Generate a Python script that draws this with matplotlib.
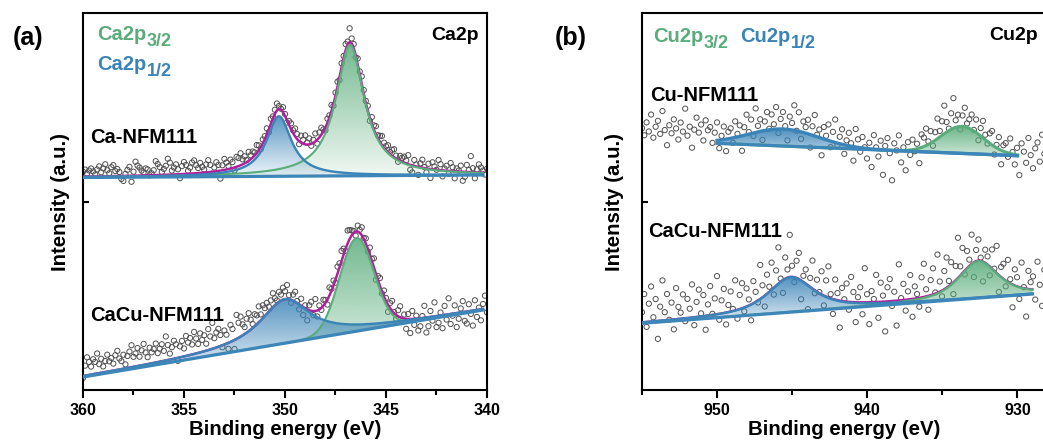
import numpy as np
import matplotlib
matplotlib.use('Agg')
import matplotlib.pyplot as plt
from matplotlib.colors import to_rgb
from matplotlib.ticker import MultipleLocator

plt.rcParams['font.family'] = ['Liberation Sans', 'DejaVu Sans']
plt.rcParams['font.weight'] = 'bold'
plt.rcParams['axes.labelweight'] = 'bold'

GREEN = '#5aad7b'
BLUE = '#3b84b8'
MAG = '#b0209c'
BASE = '#3d86b8'

# ---- (a) Ca 2p ----
# baseline given as (value at first eV, value at last eV) of the fit range
ca_fit_range = (360.0, 340.2)
ca_top_base = (212.5, 215.0)
ca_top_p32 = (346.78, 131, 1.7, 1.0)   # centre, height, fwhm, lorentz fraction
ca_top_p12 = (350.3, 60, 1.5, 1.0)
ca_bot_base = (13.0, 80.0)
ca_bot_p32 = (346.45, 93, 2.0, 0.0)
ca_bot_p12 = (350.0, 44, 3.0, 1.0)

# offsets of the measured points from the fitted envelope, 360 -> 340 eV
ca_top_resid = [
    5, 7, 3, 6, 8, 5, 2, 7, 10, 4, 8, 12, 6, 3, 9, 11, 5, 7, 4, -3,
    -5, 2, 6, 9, -6, 4, 14, 10, 8, 5, 3, 7, 6, 0, 2, 5, 14, 11, 8, 3,
    6, 9, 16, 12, 4, 7, 10, 5, -4, 8, 12, 9, 3, 6, 11, 13, 8, 5, 10, 6,
    3, 8, 12, 7, -2, 4, 9, 6, -8, 5, 11, 7, 3, 9, 6, -3, 10, 8, 12, 5,
    7, 2, 9, 4, 6, 3, 8, 5, -2, 4, 3, 6, -3, 5, 2, 4, 7, 3, 1, 5,
    2, -2, 4, 6, 3, 8, 5, -3, 7, 4, 9, 2, 6, -2, 3, 8, -4, 5, 7, 2,
    -3, 4, 2, 6, -2, 3, 5, -3, 4, 2, 6, 3, 14, 5, 4, -2, 6, 3, 8, 4,
    2, 5, -3, 7, 4, 8, 3, 6, 9, 5, 4, 7, 2, 6, 8, 3, -2, 5, 4, 6,
    3, 9, -5, -7, 6, 2, -8, 4, 8, 1, -4, 5, -9, 7, 3, 0, 10, 6, -6, 2,
    5, -3, 8, 4, -7, 3, 1, 6, -9, -5, 7, 2, 16, 4, -6, 3, 8, 5, 2, -2, 4]
ca_bot_resid = [
    -2, 10, 18, 13, 8, 15, 12, 20, 9, 14, 6, 11, 17, 10, 13, 7, 15, 19, 11, 8,
    14, 4, 12, 16, 22, 10, 13, 18, 9, 15, 21, 12, 7, 16, 11, 14, 19, 9, 13, 17,
    10, 24, 15, 6, 12, 18, 14, -3, 11, 16, 8, 20, 13, 17, 10, 22, 15, 9, 19, 12,
    16, 7, 21, 13, 26, 10, 15, 18, 11, -2, 14, 9, -6, 17, 12, -9, 24, 15, 20, 11,
    7, 14, 18, 10, 4, 12, 9, 16, 6, 13, 8, 11, 5, 9, 14, 7, 3, 10, 6, 12,
    8, 14, 4, -3, 6, 10, 2, -5, 7, -8, 3, -11, 5, 9, -4, 12, -6, 4, -2, 6,
    3, -5, 8, 2, 5, -3, 7, 4, 10, 6, -2, 13, 9, 5, 2, -4, 6, 3, 8, 1,
    5, -3, 7, 2, 9, -6, 4, 8, -2, 6, 3, -7, 5, 10, 1, -4, 6, 11, -3, 4,
    -10, 5, -14, 8, -6, 3, -12, -8, 2, 12, -15, -9, 6, -4, 14, -11, -7, 3, -13, 9,
    -5, 16, -10, -2, 8, -14, -6, 4, 11, -9, -12, 7, -3, -15, 10, -7, 2, -11, 5, 13, -4]

# ---- (b) Cu 2p ----
cu_top_range = (950.0, 930.0)
cu_top_base = (246.7, 234.3)
cu_top_p32 = (933.7, 27, 3.3, 0.0)
cu_top_p12 = (945.6, 17, 5.5, 0.0)
cu_bot_range = (955.0, 929.0)
cu_bot_base = (66.7, 96.0)
cu_bot_p32 = (932.6, 37, 3.1, 0.7)
cu_bot_p12 = (945.1, 35, 3.6, 0.8)

# 955 -> 927 eV
cu_top_resid = [
    12, 5, 18, 9, 26, 3, 14, 20, 7, 30, 11, -4, 16, 8, 22, 13, 2, 19, 10, 33,
    6, 15, -6, 12, 24, 9, 17, 1, 21, 11, 14, -2, 8, 18, -8, 4, 13, -12, 7, 10,
    -5, 16, 3, 11, -15, 8, 20, 2, 14, -3, 24, 6, 12, -9, 9, 18, 1, 15, 5, 22,
    -4, 10, 17, 3, -11, 13, 7, 25, 0, 19, -7, 11, 6, 14, -13, 9, 21, 2, 8, -17,
    12, 4, 16, -6, 10, 23, -2, 7, 15, -9, 5, 13, 3, -14, 18, 8, -4, 11, 1, -10,
    6, -18, 14, 2, -7, 9, -25, 4, 12, -3, -30, 7, 0, 15, -12, 3, -20, 8, -5, 10,
    -2, 5, -15, 13, 9, 17, 3, 12, -4, 8, 20, 6, 14, 28, 10, 2, 16, 30, 7, 12,
    -3, 11, 19, 4, 9, 15, 1, 13, -6, 8, 17, 5, -2, 10, 14, -8, 3, 12, -14, 6,
    9, -4, 15, 2, -10, 7, -20, 12, 4, -7, 18, 1, -12, 8, 14, -5, 22, 3, -15, 10,
    5, -8, 16, 19, -3, 11]
cu_bot_resid = [
    10, 28, -5, 18, 35, 4, 22, -18, 14, 40, 8, 26, 0, 17, -10, 31, 12, 6, 24, -3,
    19, 9, 33, -8, 15, 27, 3, 21, -14, 11, 29, 1, 16, 38, -6, 13, 24, -12, 7, 20,
    2, 30, -9, 14, 25, -4, 18, 6, -16, 22, 10, -2, 34, 12, -11, 19, 5, 27, -7, 15,
    36, 3, -13, 21, 8, 42, 11, -5, 17, 26, -19, 6, 14, -24, 9, 28, -3, 12, 1, 23,
    -10, 16, 31, 4, -15, 20, 7, -27, 13, 2, 18, -8, 25, 10, -20, 5, 15, -12, 34, 8,
    -22, 11, 3, 27, -16, 19, 6, -30, 14, 22, -5, 9, -25, 36, 2, 16, -11, 8, 24, -18,
    12, 4, -9, 20, 33, 7, -14, 15, 26, 1, 38, 10, -6, 18, 30, 5, 22, -12, 14, 40,
    9, 25, -4, 17, 6, 29, -15, 11, 21, 3, -20, 13, 8, -9, 19, 2, 27, -17, 10, 15,
    -6, 22, 4, -23, 16, 9, -12, 25, 1, -28, 18, 7, 13, -10, 28, 5, -16, 20, -4, 11,
    24, -8, 14, 3, -20, 17]


def peak(e, p):
    c, h, w, eta = p
    lor = 1 / (1 + (2 * (e - c) / w) ** 2)
    gau = np.exp(-4 * np.log(2) * ((e - c) / w) ** 2)
    return h * (eta * lor + (1 - eta) * gau)


def line(e, rng, vals):
    return vals[0] + (vals[1] - vals[0]) * (e - rng[0]) / (rng[1] - rng[0])


def grad_fill(ax, x, y0, y1, color, z, a0, a1):
    poly = ax.fill_between(x, y0, y1, facecolor='none', edgecolor='none')
    rgba = np.zeros((200, 1, 4))
    rgba[..., :3] = to_rgb(color)
    rgba[:, 0, 3] = np.linspace(a0, a1, 200)
    im = ax.imshow(rgba, extent=[x.min(), x.max(), y0.min(), y1.max()],
                   origin='lower', aspect='auto', zorder=z, interpolation='bilinear')
    im.set_clip_path(poly.get_paths()[0], transform=ax.transData)


def spectrum(ax, rng, base, p32, p12, resid, xr, lw_comp=1.5, lw_env=1.8, alpha=(0.08, 0.85)):
    e_pts = np.linspace(xr[0], xr[1], len(resid))
    pts = line(e_pts, rng, base) + peak(e_pts, p32) + peak(e_pts, p12) + np.array(resid)
    ax.scatter(e_pts, pts, s=14, facecolors='none', edgecolors='#505050',
               linewidths=0.7, zorder=1)

    e = np.linspace(rng[0], rng[1], 600)
    b = line(e, rng, base)
    g = b + peak(e, p32)
    bl = b + peak(e, p12)
    env = b + peak(e, p32) + peak(e, p12)
    grad_fill(ax, e, b, g, GREEN, 2, *alpha)
    grad_fill(ax, e, b, bl, BLUE, 4, *alpha)
    ax.plot(e, env, color=MAG, lw=lw_env, zorder=4.5)
    ax.plot(e, g, color=GREEN, lw=lw_comp, zorder=4.6)
    ax.plot(e, bl, color=BLUE, lw=lw_comp + 0.2, zorder=5)
    ax.plot(e, b, color=BASE, lw=2.3, zorder=6)


def sub_label(ax, x, y, main, sub, color):
    t = ax.text(x, y, main, transform=ax.transAxes, color=color, fontsize=14.5,
                va='baseline', ha='left')
    ax.annotate(sub, xy=(1, 0), xycoords=t, xytext=(0.5, -1.5),
                textcoords='offset points', color=color, fontsize=13,
                va='baseline', ha='left')


fig = plt.figure(figsize=(10.43, 4.48), dpi=100)
axa = fig.add_axes([83 / 1043, 58 / 448, 404 / 1043, 377 / 448])
axb = fig.add_axes([642 / 1043, 58 / 448, 404 / 1043, 377 / 448])

spectrum(axa, ca_fit_range, ca_top_base, ca_top_p32, ca_top_p12, ca_top_resid, (360, 340))
spectrum(axa, ca_fit_range, ca_bot_base, ca_bot_p32, ca_bot_p12, ca_bot_resid, (360, 340))
spectrum(axb, cu_top_range, cu_top_base, cu_top_p32, cu_top_p12, cu_top_resid, (955, 927),
         lw_comp=2.2, lw_env=1.0, alpha=(0.3, 0.9))
spectrum(axb, cu_bot_range, cu_bot_base, cu_bot_p32, cu_bot_p12, cu_bot_resid, (955, 927),
         lw_comp=1.6, lw_env=1.6, alpha=(0.15, 0.9))

for ax, xl, maj, mnr, lpad in [(axa, (360, 340), 5, 2.5, 9), (axb, (955, 928.1), 10, 5, 13)]:
    ax.set_xlim(*xl)
    ax.set_ylim(0, 377)
    for s in ax.spines.values():
        s.set_linewidth(1.5)
    ax.xaxis.set_major_locator(MultipleLocator(maj))
    ax.xaxis.set_minor_locator(MultipleLocator(mnr))
    ax.tick_params(axis='x', which='major', direction='out', length=6, width=1.5,
                   labelsize=11.5, pad=3)
    ax.tick_params(axis='x', which='minor', direction='out', length=3.5, width=1.5)
    ax.set_yticks([188])
    ax.tick_params(axis='y', direction='in', length=4, width=1.5, labelleft=False)
    ax.set_xlabel('Binding energy (eV)', fontsize=14.7, labelpad=2)
    ax.set_ylabel('Intensity (a.u.)', fontsize=14.7, labelpad=lpad)

# panel (a) texts
sub_label(axa, 0.035, 0.928, 'Ca2p', '3/2', GREEN)
sub_label(axa, 0.035, 0.849, 'Ca2p', '1/2', BLUE)
axa.text(0.98, 0.928, 'Ca2p', transform=axa.transAxes, fontsize=14, ha='right', va='baseline')
axa.text(0.017, 0.655, 'Ca-NFM111', transform=axa.transAxes, fontsize=14.5, va='baseline')
axa.text(0.017, 0.183, 'CaCu-NFM111', transform=axa.transAxes, fontsize=14.5, va='baseline')

# panel (b) texts
sub_label(axb, 0.027, 0.923, 'Cu2p', '3/2', GREEN)
sub_label(axb, 0.2426, 0.923, 'Cu2p', '1/2', BLUE)
axb.text(0.98, 0.928, 'Cu2p', transform=axb.transAxes, fontsize=14, ha='right', va='baseline')
axb.text(0.02, 0.767, 'Cu-NFM111', transform=axb.transAxes, fontsize=14.5, va='baseline')
axb.text(0.015, 0.406, 'CaCu-NFM111', transform=axb.transAxes, fontsize=14.5, va='baseline')

fig.text(13 / 1043, 1 - 45 / 448, '(a)', fontsize=18, va='baseline')
fig.text(555 / 1043, 1 - 45 / 448, '(b)', fontsize=18, va='baseline')

fig.savefig('out.png', dpi=100)
